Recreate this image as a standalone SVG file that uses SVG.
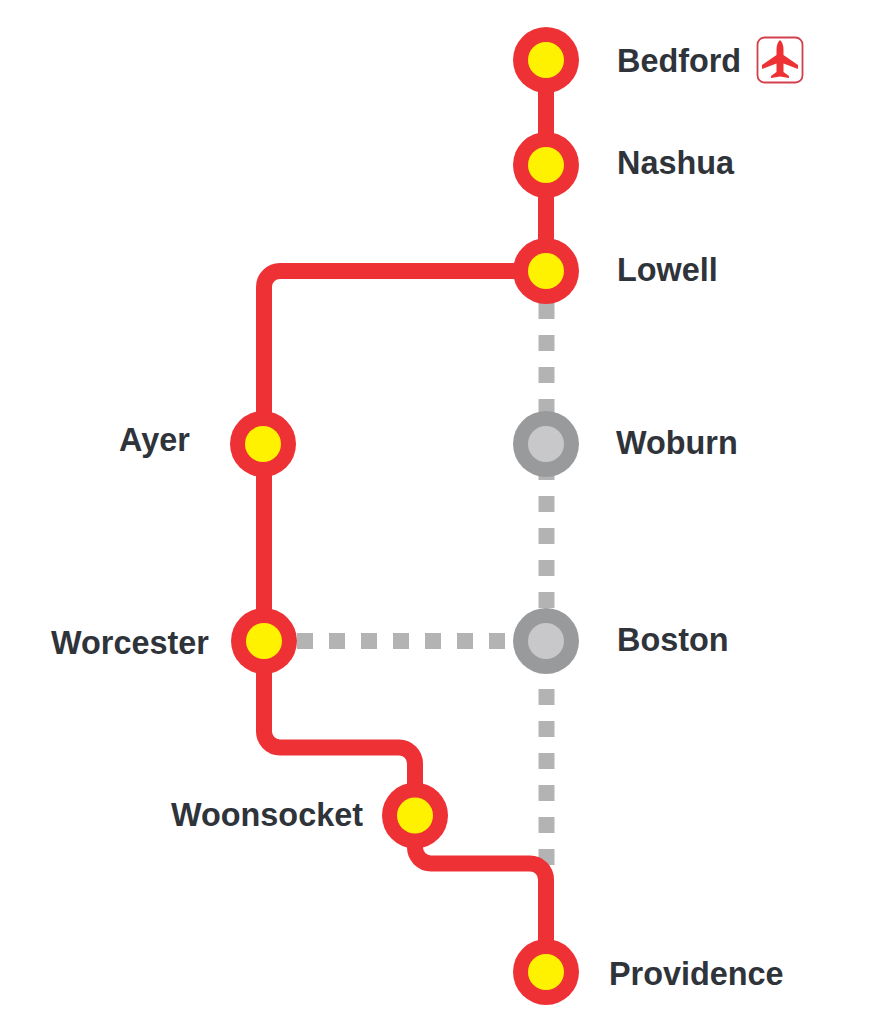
<svg xmlns="http://www.w3.org/2000/svg" width="880" height="1013" viewBox="0 0 880 1013">
<style>
.red{fill:none;stroke:#ee3135;stroke-width:16}
.dot{fill:none;stroke:#b3b3b3;stroke-width:16;stroke-dasharray:16 16}
.r{fill:#ee3135}.y{fill:#fff200}.g{fill:#999a9c}.l{fill:#c8c8ca}
text{font-family:"Liberation Sans",Arial,sans-serif;font-weight:700;font-size:32.400px;fill:#2f333a}
</style>
<rect width="880" height="1013" fill="#fff"/>
<g id="connectors">
<path class="dot" d="M546.500 303V416"/>
<path class="dot" d="M546.500 464V608"/>
<path class="dot" d="M297 641H512"/>
<path class="dot" d="M546.500 689V866"/>
<path class="red" d="M546 60V270"/>
<path class="red" d="M546 271H280A16 16 0 0 0 264 287V731A16 16 0 0 0 280 747.500H399A16 16 0 0 1 415 763.500V847A16 16 0 0 0 431 863.500H530A16 16 0 0 1 546 879.500V972"/>
</g>
<g id="bedford"><circle class="r" cx="546" cy="60" r="33"/><circle class="y" cx="546" cy="60" r="18"/><text x="617" y="72">Bedford</text></g>
<g id="airport-icon"><rect x="757.500" y="37.500" width="45" height="45" rx="7" fill="#fff" stroke="#d2404c" stroke-width="1.800"/>
<path fill="#ee3135" d="M780 40Q783.500 43 783.500 50V55L798 65V69L783.500 63.500V72L789 76V78L780 76.500L771 78V76L776.500 72V63.500L762 69V65L776.500 55V50Q776.500 43 780 40Z"/></g>
<g id="nashua"><circle class="r" cx="546" cy="165" r="33"/><circle class="y" cx="546" cy="165" r="18"/><text x="617" y="174">Nashua</text></g>
<g id="lowell"><circle class="r" cx="546" cy="271" r="33"/><circle class="y" cx="546" cy="271" r="18"/><text x="617" y="281">Lowell</text></g>
<g id="ayer"><circle class="r" cx="263" cy="444" r="33"/><circle class="y" cx="263" cy="444" r="18"/><text x="119" y="451">Ayer</text></g>
<g id="woburn"><circle class="g" cx="546" cy="444" r="33"/><circle class="l" cx="546" cy="444" r="18"/><text x="616" y="454">Woburn</text></g>
<g id="worcester"><circle class="r" cx="264" cy="641" r="33"/><circle class="y" cx="264" cy="641" r="18"/><text x="51" y="654">Worcester</text></g>
<g id="boston"><circle class="g" cx="546" cy="641" r="33"/><circle class="l" cx="546" cy="641" r="18"/><text x="617" y="651">Boston</text></g>
<g id="woonsocket"><circle class="r" cx="415" cy="815.500" r="33"/><circle class="y" cx="415" cy="815.500" r="18"/><text x="171" y="826">Woonsocket</text></g>
<g id="providence"><circle class="r" cx="546" cy="972" r="33"/><circle class="y" cx="546" cy="972" r="18"/><text x="609" y="985">Providence</text></g>
</svg>
